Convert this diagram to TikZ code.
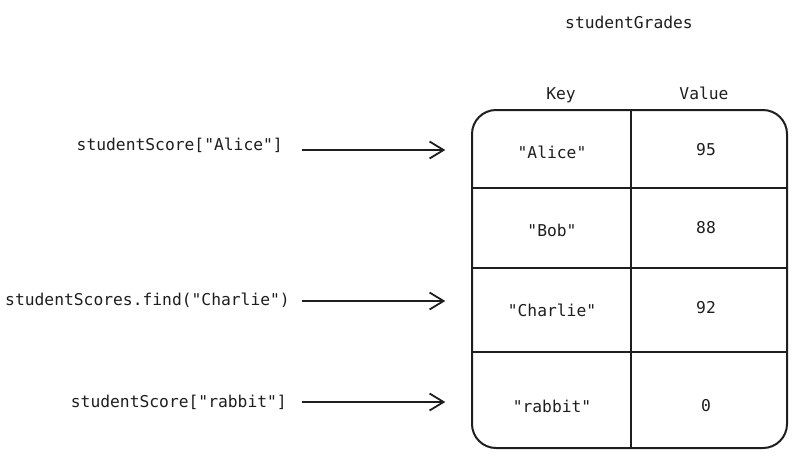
\documentclass[tikz,border=0pt]{standalone}
\usepackage{fontspec}
\setmainfont{DejaVu Sans Mono}
\usetikzlibrary{arrows.meta}
\definecolor{ink}{HTML}{1E1E1E}
\newcommand{\dq}{\textquotedbl}
\begin{document}
\begin{tikzpicture}[x=1pt,y=-1pt,
  txt/.style={font=\fontsize{16.3}{19}\selectfont, text=ink, inner sep=0pt},
  cell/.style={txt, minimum width=159pt},
  ptr/.style={draw=ink, line width=1.8pt, -{Straight Barb[length=14pt,width=17pt,line width=1.8pt]}, shorten >=27pt},
  grid/.style={draw=ink, line width=2pt}]
\useasboundingbox (0,0) rectangle (796,459);
% table frame
\draw[grid, rounded corners=24pt] (472,110) rectangle (787,448);
\draw[grid] (631,110) -- (631,448);
\draw[grid] (472,188) -- (787,188);
\draw[grid] (472,268) -- (787,268);
\draw[grid] (472,352) -- (787,352);
% headings
\node[txt] (title) at (629,22) {studentGrades};
\node[txt] (hk) at (561,95) {Key};
\node[txt] (hv) at (704,93) {Value};
% cells
\node[cell] (k1) at (552,152) {\dq Alice\dq};
\node[cell] (v1) at (706,150) {95};
\node[cell] (k2) at (552,230) {\dq Bob\dq};
\node[cell] (v2) at (706,228) {88};
\node[cell] (k3) at (552,310) {\dq Charlie\dq};
\node[cell] (v3) at (706,308) {92};
\node[cell] (k4) at (552,406) {\dq rabbit\dq};
\node[cell] (v4) at (706,406) {0};
% left expressions
\node[txt, anchor=east] (l1) at (283,145) {studentScore[\dq Alice\dq]};
\node[txt, anchor=east] (l2) at (290,300) {studentScores.find(\dq Charlie\dq)};
\node[txt, anchor=east] (l3) at (287,402) {studentScore[\dq rabbit\dq]};
% arrows
\coordinate (a1) at (302,150);
\coordinate (a2) at (302,301);
\coordinate (a3) at (302,402);
\draw[ptr] (a1) -- (a1 -| k1.west);
\draw[ptr] (a2) -- (a2 -| k3.west);
\draw[ptr] (a3) -- (a3 -| k4.west);
\end{tikzpicture}
\end{document}
